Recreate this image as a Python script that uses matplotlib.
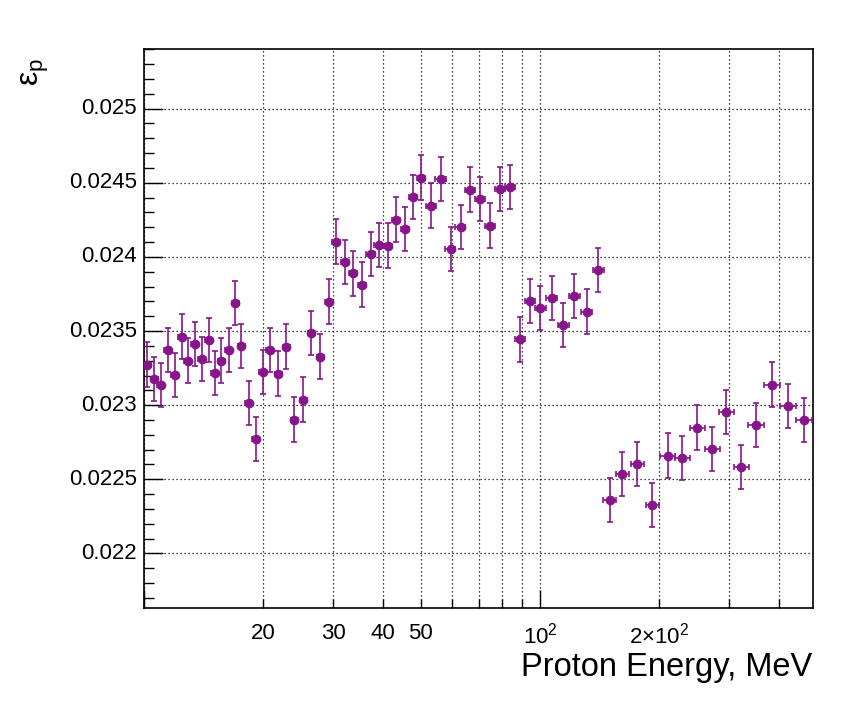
import numpy as np
import matplotlib
matplotlib.use("Agg")
import matplotlib.pyplot as plt
from matplotlib.ticker import FixedLocator, NullFormatter, MultipleLocator

plt.rcParams["font.family"] = ["Liberation Sans", "DejaVu Sans"]
plt.rcParams["mathtext.fontset"] = "custom"
plt.rcParams["mathtext.rm"] = "Liberation Sans"

# %% datos
energia = [10.18, 10.61, 11.01, 11.47, 11.95, 12.44, 12.88, 13.42, 13.97, 14.55,
           15.07, 15.69, 16.35, 17.02, 17.62, 18.36, 19.12, 19.92, 20.74, 21.85,
           22.85, 23.94, 25.23, 26.47, 27.89, 29.30, 30.57, 32.21, 33.74, 35.55,
           37.31, 39.08, 41.28, 43.25, 45.47, 47.63, 49.90, 52.89, 56.05, 59.39,
           62.93, 66.69, 70.68, 74.91, 79.39, 84.14, 89.18, 94.52, 100.0, 106.8,
           114.3, 122.0, 130.9, 140.3, 149.6, 161.3, 176.0, 192.0, 209.6, 228.6,
           249.4, 272.1, 295.2, 322.1, 351.4, 385.5, 423.2, 464.5]

err_e = [0.21, 0.22, 0.22, 0.23, 0.24, 0.25, 0.26, 0.27, 0.28, 0.30,
         0.31, 0.32, 0.33, 0.35, 0.36, 0.37, 0.39, 0.40, 0.42, 0.44,
         0.46, 0.49, 0.51, 0.54, 0.57, 0.60, 0.71, 0.75, 0.78, 0.83,
         0.87, 0.91, 0.96, 1.00, 1.06, 1.11, 1.16, 1.54, 1.63, 1.73,
         1.83, 1.94, 2.06, 2.19, 2.32, 2.46, 2.60, 2.76, 3.2, 3.4,
         3.7, 3.9, 4.2, 4.5, 5.7, 6.1, 6.7, 7.3, 9.2, 10.0,
         10.9, 11.9, 12.9, 14.1, 16.4, 18.1, 19.8, 21.8]

eps_p = [0.023274, 0.023178, 0.023137, 0.023373, 0.023205, 0.023463, 0.023301, 0.023414,
         0.023313, 0.023441, 0.023218, 0.023301, 0.023373, 0.023690, 0.023400, 0.023016,
         0.022773, 0.023225, 0.023373, 0.023213, 0.023395, 0.022903, 0.023038, 0.023488,
         0.023328, 0.023699, 0.024103, 0.023966, 0.023888, 0.023813, 0.024020, 0.024081,
         0.024076, 0.024252, 0.024189, 0.024405, 0.024535, 0.024346, 0.024526, 0.024054,
         0.024202, 0.024454, 0.024391, 0.024211, 0.024459, 0.024472, 0.023443, 0.023703,
         0.023656, 0.023724, 0.023541, 0.023737, 0.023631, 0.023912, 0.022362, 0.022537,
         0.022605, 0.022328, 0.022659, 0.022645, 0.022849, 0.022706, 0.022955, 0.022584,
         0.022868, 0.023139, 0.022996, 0.022901]

err_eps = [0.00015] * len(eps_p)

ticks_mayores = [10, 100]
ticks_menores = [20, 30, 40, 50, 60, 70, 80, 90, 200, 300, 400]
posiciones_etiq = [20, 30, 40, 50, 100, 200]
etiquetas_x = ["20", "30", "40", "50",
               r"$\mathregular{10^{2}}$", r"$\mathregular{2{\times}10^{2}}$"]
niveles_y = [0.022, 0.0225, 0.023, 0.0235, 0.024, 0.0245, 0.025]
etiquetas_y = ["0.022", "0.0225", "0.023", "0.0235", "0.024", "0.0245", "0.025"]

# %% figura
fig = plt.figure(figsize=(8.51, 7.04), dpi=100)
ax = fig.add_axes([0.1692, 0.1359, 0.9557 - 0.1692, 0.930 - 0.1359])

color = "#87168a"
ax.errorbar(energia, eps_p, xerr=err_e, yerr=err_eps, fmt="o", color=color,
            ms=6, elinewidth=1.2, capsize=2.3, capthick=1.2, zorder=3)

ax.set_xscale("log")
ax.set_xlim(10, 489)
ax.set_ylim(0.02163, 0.0254)

ax.xaxis.set_major_locator(FixedLocator(ticks_mayores))
ax.xaxis.set_minor_locator(FixedLocator(ticks_menores))
ax.xaxis.set_major_formatter(NullFormatter())
ax.xaxis.set_minor_formatter(NullFormatter())
for pos, txt in zip(posiciones_etiq, etiquetas_x):
    ax.text(pos, -0.026, txt, transform=ax.get_xaxis_transform(),
            ha="center", va="top", fontsize=16)

ax.yaxis.set_major_locator(MultipleLocator(0.0005))
ax.yaxis.set_minor_locator(MultipleLocator(0.0001))
ax.yaxis.set_major_formatter(NullFormatter())
for v, txt in zip(niveles_y, etiquetas_y):
    ax.text(-0.011, v, txt, transform=ax.get_yaxis_transform(),
            ha="right", va="center", fontsize=16)

ax.tick_params(axis="both", which="both", direction="in", top=False, right=False,
               width=1, color="black")
ax.tick_params(axis="y", which="major", length=14)
ax.tick_params(axis="y", which="minor", length=7)
ax.tick_params(axis="x", which="major", length=13)
ax.tick_params(axis="x", which="minor", length=6.5)

# cuadrícula punteada estilo ROOT
for g in ticks_mayores + ticks_menores:
    ax.axvline(g, color="black", lw=0.9, ls=(0, (1, 2.2)), zorder=1)
for v in niveles_y:
    ax.axhline(v, color="black", lw=0.9, ls=(0, (1, 2.2)), zorder=1)

for s in ax.spines.values():
    s.set_linewidth(1.2)

fig.text(0.9545, 0.040, "Proton Energy, MeV", ha="right", va="baseline", fontsize=23.5)
fig.text(0.042, 0.918, r"$\mathregular{\varepsilon_{p}}$", rotation=90,
         ha="center", va="top", fontsize=23)

fig.savefig("out.png", dpi=100, facecolor="white")
